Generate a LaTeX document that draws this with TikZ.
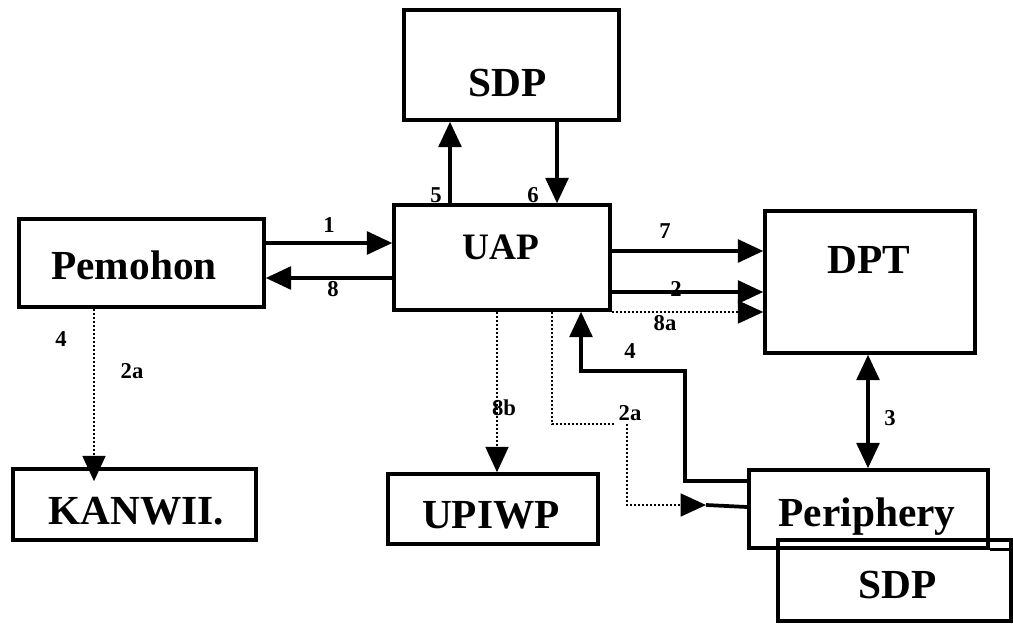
\documentclass[tikz,border=0pt]{standalone}
\usepackage{fontspec}
\setmainfont{Liberation Serif}
\usetikzlibrary{arrows.meta,calc}
\begin{document}
\begin{tikzpicture}[x=0.75pt,y=-0.75pt,
  box/.style={draw, line width=2.6pt, inner sep=0pt},
  big/.style={font=\fontsize{31}{35}\selectfont\bfseries, anchor=base, inner sep=0pt},
  num/.style={font=\fontsize{17}{19}\selectfont\bfseries, inner sep=1pt},
  tip/.style={-{Triangle[length=19pt,width=17pt]}},
  conn/.style={line width=2.8pt, tip},
  dconn/.style={line width=2pt, dash pattern=on 1.8pt off 1.2pt, tip},
]
\useasboundingbox (0,0) rectangle (1013,625);
% boxes
\node[box, minimum width=161.25pt, minimum height=82.5pt] (sdpT) at (511.5,65) {};
\node[box, minimum width=162pt, minimum height=78.75pt] (uap) at (502,257.5) {};
\node[box, minimum width=183.75pt, minimum height=66pt] (pem) at (141.5,263) {};
\node[box, minimum width=157.5pt, minimum height=106.5pt] (dpt) at (870,282) {};
\node[box, minimum width=182.25pt, minimum height=53.25pt] (kan) at (134.5,504.5) {};
\node[box, minimum width=157.5pt, minimum height=52.5pt] (upi) at (493,509) {};
\node[box, minimum width=174.75pt, minimum height=60.75pt] (sdpB) at (894.5,580.5) {};
\node[box, minimum width=179.25pt, minimum height=58.5pt] (per) at (868.5,509) {};
\coordinate (edge) at (1013,546);
\draw[line width=2.6pt] (per.south east) -- (per.south east -| edge);
% texts
\node[big] (tSdpT) at (508,96) {SDP};
\node[big, font=\fontsize{28}{32}\selectfont\bfseries] (tUap) at (501,259) {UAP};
\node[big] (tPem) at (134,279) {Pemohon};
\node[big] (tDpt) at (869,273) {DPT};
\node[big] (tKan) at (136,524) {KANWII.};
\node[big] (tUpi) at (491,528) {UPIWP};
\node[big] (tPer) at (867,526) {Periphery};
\node[big] (tSdpB) at (898,598) {SDP};
% helper coordinates
\coordinate (y243) at (0,243);
\coordinate (y278) at (0,278);
\coordinate (y251) at (0,251);
\coordinate (y292) at (0,292);
\coordinate (y312) at (0,312);
\coordinate (y481) at (0,481);
\coordinate (y507) at (0,507);
\coordinate (x450) at (450,0);
\coordinate (x557) at (557,0);
\coordinate (x868) at (868,0);
\coordinate (x94) at (94,0);
\coordinate (x497) at (497,0);
\coordinate (x552) at (552,0);
\coordinate (x581) at (581,0);
\coordinate (tip2a) at (706,505);
% connectors
\draw[conn] (pem.east |- y243) -- (uap.west |- y243);
\draw[conn] (uap.west |- y278) -- (pem.east |- y278);
\draw[conn] (uap.north -| x450) -- (sdpT.south -| x450);
\draw[conn] (sdpT.south -| x557) -- (uap.north -| x557);
\draw[conn] (uap.east |- y251) -- (dpt.west |- y251);
\draw[conn] (uap.east |- y292) -- (dpt.west |- y292);
\draw[dconn] (uap.east |- y312) -- (dpt.west |- y312);
\draw[line width=2.8pt, {Triangle[length=19pt,width=17pt]}-{Triangle[length=19pt,width=17pt]}] (dpt.south -| x868) -- (per.north -| x868);
\draw[dconn] (pem.south -| x94) -- ($(kan.north -| x94)+(0,14)$);
\draw[dconn] (uap.south -| x497) -- (upi.north -| x497);
\draw[dconn] (uap.south -| x552) -- (552,424) -- (614,424) (627,424) -- (627,505) -- (tip2a);
\draw[line width=2.8pt] (tip2a) -- (per.west |- y507);
\draw[conn] (per.west |- y481) -- (685,481) -- (685,371) -- (581,371) -- (uap.south -| x581);
% labels
\node[num] (n1) at (329,225) {1};
\node[num] (n8) at (333,289) {8};
\node[num] (n5) at (436,195) {5};
\node[num] (n6) at (533,195) {6};
\node[num] (n7) at (665,231) {7};
\node[num] (n2) at (676,289) {2};
\node[num] (n8a) at (665,323) {8a};
\node[num] (n4) at (630,351) {4};
\node[num] (n8b) at (504,408) {8b};
\node[num] (n2a) at (630,413) {2a};
\node[num] (n3) at (890,418) {3};
\node[num] (n4b) at (61,339) {4};
\node[num] (n2ab) at (132,371) {2a};
\end{tikzpicture}
\end{document}
